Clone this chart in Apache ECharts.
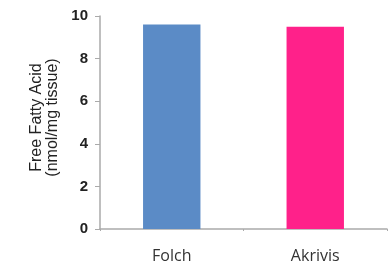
<!DOCTYPE html>
<html>
<head>
<meta charset="utf-8">
<script src="https://cdn.jsdelivr.net/npm/echarts@6/dist/echarts.min.js"></script>
<style>
html, body { margin: 0; padding: 0; background: #fff; }
#chart { width: 391px; height: 266px; }
</style>
</head>
<body>
<div id="chart"></div>
<script>
// extraction methods
var categories = ['Folch', 'Akrivis']
var ffaValues = [9.6, 9.5]
var barColors = ['#5b8bc6', '#ff218a']
var yTitle = 'Free Fatty Acid\n(nmol/mg tissue)'

var chart = echarts.init(document.getElementById('chart'))

var option = {
	backgroundColor: '#fff',
	animation: false,
	grid: {
		left: 100,
		right: 4,
		top: 16,
		bottom: 37,
	},
	xAxis: {
		type: 'category',
		data: categories,
		axisLine: { lineStyle: { color: '#aaa', width: 1.5 } },
		axisTick: { show: true, length: 2, lineStyle: { color: '#aaa' } },
		axisLabel: {
			margin: 19,
			color: '#333',
			fontSize: 16,
			fontFamily: 'Open Sans',
		},
	},
	yAxis: {
		type: 'value',
		min: 0,
		max: 10,
		interval: 2,
		name: yTitle,
		nameLocation: 'middle',
		nameGap: 37,
		nameTextStyle: {
			color: '#222',
			fontSize: 16,
			lineHeight: 16,
			fontFamily: 'Liberation Sans',
			padding: [0, 0, 0, 10],
		},
		axisLine: { show: true, lineStyle: { color: '#aaa', width: 1.5 } },
		axisTick: { show: true, length: 5, lineStyle: { color: '#aaa' } },
		splitLine: { show: false },
		axisLabel: {
			margin: 12,
			color: '#222',
			fontSize: 15,
			fontWeight: 'bold',
			fontFamily: 'Liberation Sans',
		},
	},
	series: [
		{
			type: 'bar',
			barWidth: '40%',
			data: ffaValues.map(function (v, i) {
				return { value: v, itemStyle: { color: barColors[i] } }
			}),
		},
	],
}

chart.setOption(option)
</script>
</body>
</html>
